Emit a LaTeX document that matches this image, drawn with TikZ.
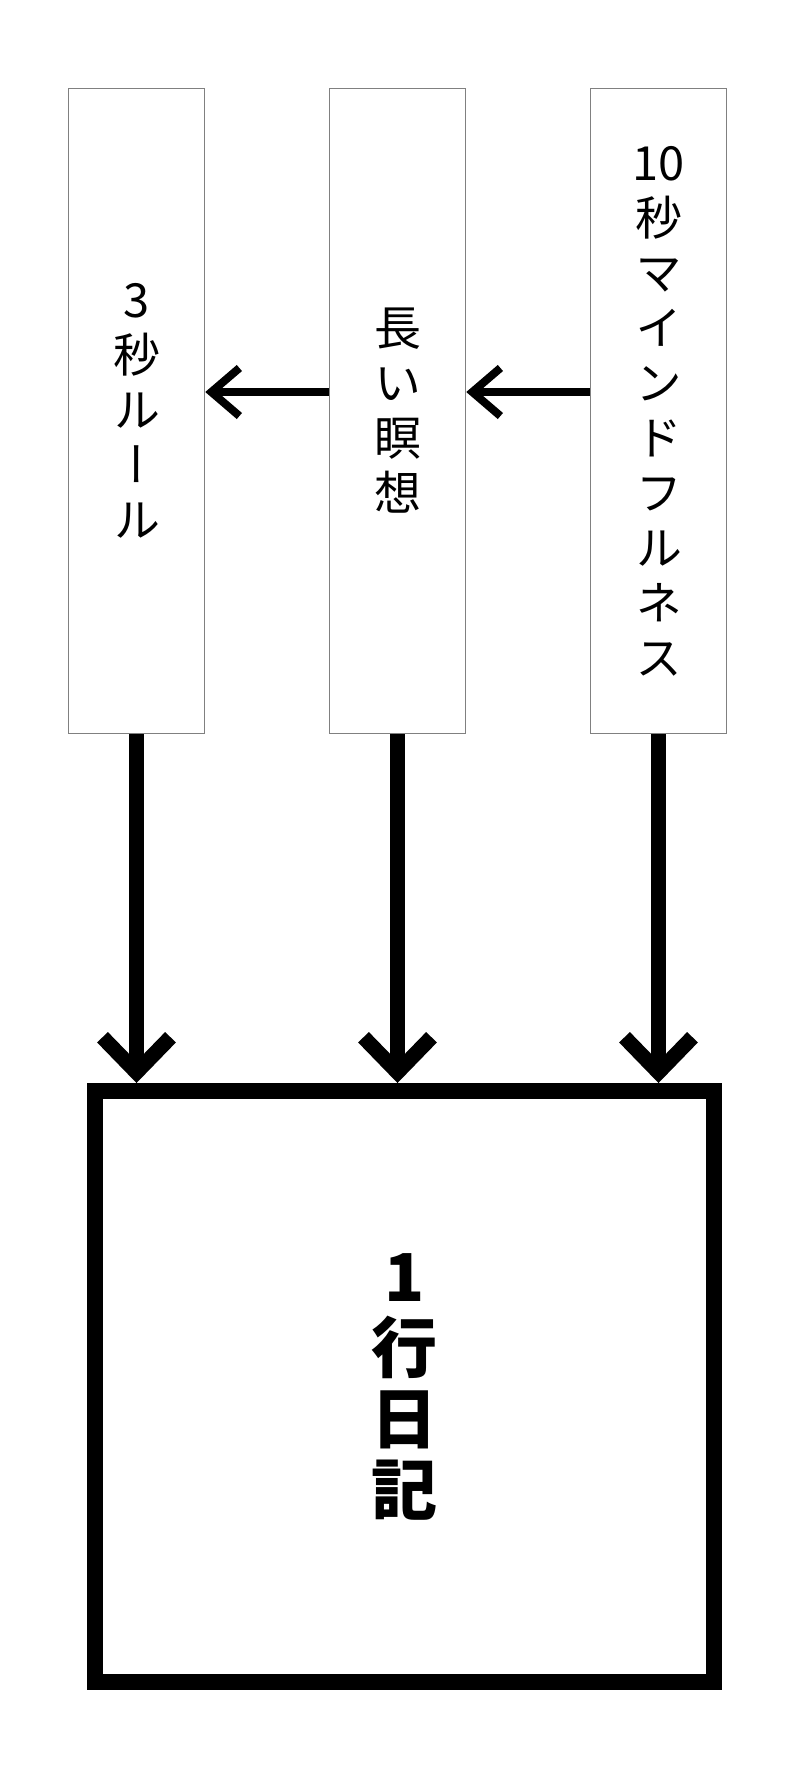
\documentclass[tikz,border=0pt]{standalone}
\usepackage{fontspec}
\newfontfamily\jp{Noto Sans CJK JP}
\newfontfamily\jpv[RawFeature=+vert]{Noto Sans CJK JP}
\usetikzlibrary{arrows.meta}
\begin{document}
\begin{tikzpicture}[x=1pt,y=-1pt,
  colbox/.style={draw=black!50, line width=1.5pt, fill=white, minimum width=136pt, minimum height=645pt, inner sep=0pt, align=center, font=\jpv\fontsize{47}{55}\selectfont},
  bigbox/.style={draw=black, line width=16pt, fill=white, minimum width=619pt, minimum height=591pt, inner sep=0pt, align=center, font=\jp\bfseries\fontsize{66}{71}\selectfont},
  sidearrow/.style={line width=8pt, -{Straight Barb[length=28pt,width=48pt]}},
  downarrow/.style={line width=15pt, -{Straight Barb[length=35pt,width=68pt]}}]
\useasboundingbox[fill=white] (0,0) rectangle (800,1773);
\node[colbox] (rule) at (136.5,411) {3\\秒\\ル\\ー\\ル};
\node[colbox] (med) at (397.5,411) {長\\い\\瞑\\想};
\node[colbox] (mind) at (658.5,411) {10\\秒\\マ\\イ\\ン\\ド\\フ\\ル\\ネ\\ス};
\node[bigbox] (diary) at (404.5,1386.5) {1\\行\\日\\記};
\draw[sidearrow] ([yshift=19pt]mind.west) -- ([yshift=19pt]med.east);
\draw[sidearrow] ([yshift=19pt]med.west) -- ([yshift=19pt]rule.east);
\draw[downarrow] (rule.south) -- (rule.south |- diary.north);
\draw[downarrow] (med.south) -- (med.south |- diary.north);
\draw[downarrow] (mind.south) -- (mind.south |- diary.north);
\end{tikzpicture}
\end{document}
